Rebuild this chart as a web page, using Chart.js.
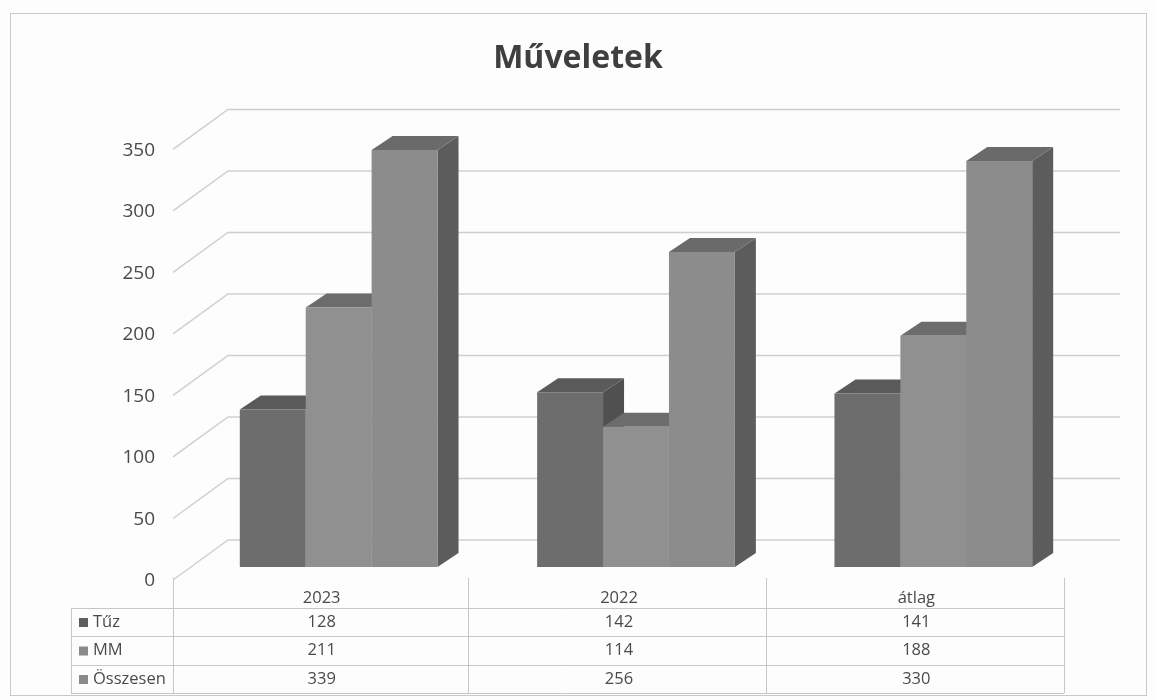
<!DOCTYPE html>
<html>
<head>
<meta charset="utf-8">
<title>Műveletek</title>
<script src="https://cdn.jsdelivr.net/npm/chart.js@4"></script>
<style>
  body { margin: 0; background: #fdfdfd; }
</style>
</head>
<body>
<canvas id="chart" width="1156" height="700"></canvas>
<script>
const categories = ['2023', '2022', 'átlag'];
const tuz = [128, 142, 141];
const mm = [211, 114, 188];
const osszesen = [339, 256, 330];
const yTicks = [0, 50, 100, 150, 200, 250, 300, 350];

const font = '"Open Sans", sans-serif';

// offsets of the 3D box, relative to the front face of the bars
const barDepth = { x: 21, y: -14 };
const frontPlane = { x: -17, y: 13 };
const backPlane = { x: 38, y: -27 };

const table = { left: 71, top: 608, rowLines: [608, 636, 665, 693], columns: [173, 468, 766, 1064], columnTop: 578 };

function shade(ctx, points, color) {
    ctx.fillStyle = color;
    ctx.beginPath();
    points.forEach((p, i) => (i ? ctx.lineTo(p[0], p[1]) : ctx.moveTo(p[0], p[1])));
    ctx.closePath();
    ctx.fill();
}

const frame = {
    id: 'frame',
    beforeDraw(chart) {
        const ctx = chart.ctx;
        ctx.save();
        ctx.strokeStyle = '#c9c9c9';
        ctx.lineWidth = 1;
        ctx.strokeRect(10.5, 13.5, 1136, 682);
        ctx.restore();
    }
};

const wallGrid = {
    id: 'wallGrid',
    beforeDatasetsDraw(chart) {
        const ctx = chart.ctx;
        const { left, right } = chart.chartArea;
        const y = chart.scales.y;
        ctx.save();
        ctx.strokeStyle = '#cfcfcf';
        ctx.lineWidth = 1.5;
        yTicks.forEach(v => {
            const py = y.getPixelForValue(v);
            ctx.beginPath();
            ctx.moveTo(left + frontPlane.x, py + frontPlane.y);
            ctx.lineTo(left + backPlane.x, py + backPlane.y);
            ctx.lineTo(right + backPlane.x, py + backPlane.y);
            ctx.stroke();
        });
        ctx.restore();
    }
};

// bars go left to right so each one covers the side of the one before it
const bars3d = {
    id: 'bars3d',
    beforeDatasetsDraw(chart) {
        const ctx = chart.ctx;
        chart.data.datasets.forEach((ds, index) => {
            chart.getDatasetMeta(index).data.forEach(bar => {
                const l = bar.x - bar.width / 2;
                const r = bar.x + bar.width / 2;
                const t = bar.y;
                const b = bar.base;
                const dx = barDepth.x;
                const dy = barDepth.y;
                shade(ctx, [[r, t], [r + dx, t + dy], [r + dx, b + dy], [r, b]], ds.sideColor);
                shade(ctx, [[l, t], [l + dx, t + dy], [r + dx, t + dy], [r, t]], ds.topColor);
                bar.draw(ctx);
            });
        });
    },
    beforeDatasetDraw() {
        return false;
    }
};

const dataTable = {
    id: 'dataTable',
    afterDraw(chart) {
        const ctx = chart.ctx;
        const x = chart.scales.x;
        ctx.save();
        ctx.strokeStyle = '#c6c6c6';
        ctx.lineWidth = 1;
        table.rowLines.forEach(y => {
            ctx.beginPath();
            ctx.moveTo(table.left, y + 0.5);
            ctx.lineTo(table.columns[3], y + 0.5);
            ctx.stroke();
        });
        table.columns.forEach(cx => {
            ctx.beginPath();
            ctx.moveTo(cx + 0.5, table.columnTop);
            ctx.lineTo(cx + 0.5, table.rowLines[3]);
            ctx.stroke();
        });
        ctx.beginPath();
        ctx.moveTo(table.left + 0.5, table.top);
        ctx.lineTo(table.left + 0.5, table.rowLines[3]);
        ctx.stroke();

        ctx.font = '16.5px ' + font;
        ctx.textBaseline = 'middle';
        chart.data.datasets.forEach((ds, row) => {
            const cy = (table.rowLines[row] + table.rowLines[row + 1]) / 2;
            ctx.fillStyle = ds.keyColor;
            ctx.fillRect(79, cy - 4, 9, 9);
            ctx.fillStyle = '#4a4a4a';
            ctx.textAlign = 'left';
            ctx.fillText(ds.label, 93, cy);
            ctx.textAlign = 'center';
            ds.data.forEach((v, i) => {
                ctx.fillText(String(v), x.getPixelForTick(i) + frontPlane.x, cy);
            });
        });
        ctx.restore();
    }
};

new Chart(document.getElementById('chart'), {
    type: 'bar',
    data: {
        labels: categories,
        datasets: [
            { label: 'Tűz', data: tuz, backgroundColor: '#6d6d6d', keyColor: '#5f5f5f', sideColor: '#505050', topColor: '#5a5a5a' },
            { label: 'MM', data: mm, backgroundColor: '#909090', keyColor: '#8a8a8a', sideColor: '#5f5f5f', topColor: '#6c6c6c' },
            { label: 'Összesen', data: osszesen, backgroundColor: '#8c8c8c', keyColor: '#8a8a8a', sideColor: '#5c5c5c', topColor: '#6a6a6a' }
        ]
    },
    options: {
        responsive: false,
        animation: false,
        devicePixelRatio: 1,
        layout: { padding: { right: 74, left: 74, top: 0, bottom: 0 } },
        datasets: { bar: { categoryPercentage: 0.665, barPercentage: 1 } },
        scales: {
            x: {
                grid: { display: false, drawTicks: false },
                border: { display: false },
                ticks: {
                    color: '#4a4a4a',
                    font: { family: font, size: 16.5 },
                    labelOffset: frontPlane.x,
                    padding: 21,
                    maxRotation: 0
                },
                afterFit(scale) { scale.height = 133; }
            },
            y: {
                min: 0,
                max: 350,
                grid: { display: false, drawTicks: false },
                border: { display: false },
                ticks: {
                    stepSize: 50,
                    color: '#4a4a4a',
                    font: { family: font, size: 19 },
                    labelOffset: 14,
                    padding: 35
                },
                afterFit(scale) { scale.width = 116; }
            }
        },
        plugins: {
            legend: { display: false },
            tooltip: { enabled: false },
            title: {
                display: true,
                text: 'Műveletek',
                color: '#3f3f3f',
                font: { family: font, size: 32, weight: 'bold' },
                padding: { top: 40, bottom: 58 }
            }
        }
    },
    plugins: [frame, wallGrid, bars3d, dataTable]
});
</script>
</body>
</html>
